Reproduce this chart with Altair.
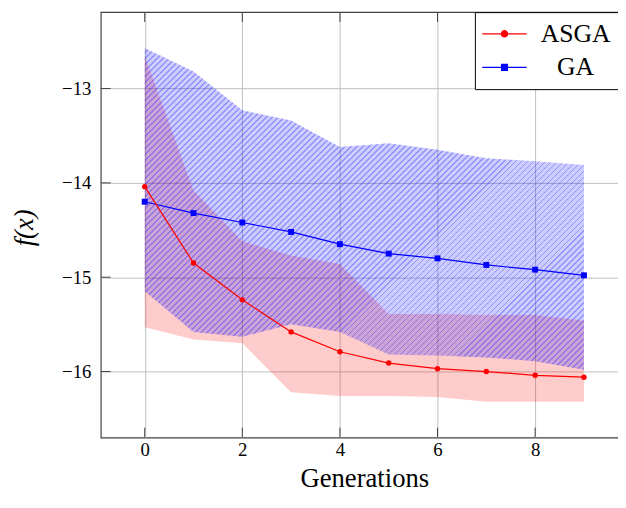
import math
import altair as alt
import pandas as pd

# ---- data ----
generations = [0, 1, 2, 3, 4, 5, 6, 7, 8, 9]
asga_mean = [-14.04, -14.85, -15.24, -15.58, -15.79, -15.91, -15.97, -16.00, -16.04, -16.06]
asga_hi = [-12.65, -14.08, -14.62, -14.77, -14.86, -15.39, -15.39, -15.40, -15.40, -15.46]
asga_lo = [-15.53, -15.66, -15.70, -16.22, -16.26, -16.26, -16.27, -16.32, -16.32, -16.32]
ga_mean = [-14.20, -14.32, -14.42, -14.52, -14.65, -14.75, -14.80, -14.87, -14.92, -14.98]
ga_hi = [-12.57, -12.82, -13.23, -13.34, -13.62, -13.58, -13.65, -13.74, -13.77, -13.81]
ga_lo = [-15.15, -15.58, -15.63, -15.50, -15.58, -15.82, -15.83, -15.85, -15.89, -15.98]
series_names = ["ASGA", "GA"]
x_ticks = [0, 2, 4, 6, 8]
y_ticks = [-13, -14, -15, -16]

# ---- layout ----
W, H = 534, 431
XMIN, XMAX = -0.9, 9.9
YMIN, YMAX = -16.70, -12.19
FONT = "Liberation Serif"
FRAME = "#404040"

df = pd.DataFrame({
    "gen": generations,
    "asga_mean": asga_mean, "asga_hi": asga_hi, "asga_lo": asga_lo,
    "ga_mean": ga_mean, "ga_hi": ga_hi, "ga_lo": ga_lo,
})
df_xt = pd.DataFrame({"t": x_ticks})
df_yt = pd.DataFrame({"t": y_ticks})
df_leg = pd.DataFrame({"gen": generations[:2], "series": series_names})

xscale = alt.Scale(domain=[XMIN, XMAX], nice=False, zero=False)
yscale = alt.Scale(domain=[YMIN, YMAX], nice=False, zero=False)
xaxis = alt.Axis(values=x_ticks, title="Generations", grid=True, ticks=False, domain=False,
                 labelPadding=3, titleX=267, titleY=50, titleBaseline="alphabetic",
                 titleAnchor="start", titleAlign="center")
yaxis = alt.Axis(values=y_ticks, title="f(x)", grid=True, ticks=False, domain=False,
                 labelPadding=10, titleX=-77, titleY=218, titleBaseline="middle",
                 titleAngle=270, titleFontStyle="italic", titleAlign="center")


def X(field):
    return alt.X(field, type="quantitative", scale=xscale, axis=xaxis)


def Y(field):
    return alt.Y(field, type="quantitative", scale=yscale, axis=yaxis)


# ---- hatch pattern for the GA band, via a striped linear gradient ----
px_x = W / (XMAX - XMIN)
px_y = H / (YMAX - YMIN)
bw = (max(generations) - min(generations)) * px_x
bh = (max(ga_hi) - min(ga_lo)) * px_y
k = (bw + bh) / (bw ** 2 + bh ** 2)
span = (bw + bh) / math.sqrt(2)
period = 4.3
n = int(round(span / period))
frac = 0.3
base_c = "rgba(0,0,255,0.2)"
line_c = "rgba(0,0,255,0.42)"
stops = []
for i in range(n):
    a = i / n
    b = (i + 1 - frac) / n
    c = (i + 1) / n
    stops += [alt.GradientStop(color=base_c, offset=a), alt.GradientStop(color=base_c, offset=b),
              alt.GradientStop(color=line_c, offset=b), alt.GradientStop(color=line_c, offset=c)]
hatch = alt.LinearGradient(gradient="linear", stops=stops,
                           x1=0, y1=0, x2=k * bw, y2=k * bh)

base = alt.Chart(df)

red_band = base.mark_area(color="red", opacity=0.2).encode(
    x=X("gen"), y=Y("asga_lo"), y2="asga_hi")
blue_band = base.mark_area(color=hatch).encode(
    x=X("gen"), y=Y("ga_lo"), y2="ga_hi")

ga_line = base.mark_line(color="blue", strokeWidth=1.2).encode(x=X("gen"), y=Y("ga_mean"))
ga_pts = base.mark_square(color="blue", size=36, opacity=1).encode(x=X("gen"), y=Y("ga_mean"))
asga_line = base.mark_line(color="red", strokeWidth=1.2).encode(x=X("gen"), y=Y("asga_mean"))
asga_pts = base.mark_circle(color="red", size=30, opacity=1).encode(x=X("gen"), y=Y("asga_mean"))

TL = 10
xt_bot = alt.Chart(df_xt).mark_rule(color=FRAME, strokeWidth=1).encode(
    x=X("t"), y=alt.value(H), y2=alt.value(H - TL))
xt_top = alt.Chart(df_xt).mark_rule(color=FRAME, strokeWidth=1).encode(
    x=X("t"), y=alt.value(0), y2=alt.value(TL))
yt_left = alt.Chart(df_yt).mark_rule(color=FRAME, strokeWidth=1).encode(
    y=Y("t"), x=alt.value(0), x2=alt.value(TL))

# legend symbols: line with marker (units of sqrt(size)/2 = 10 px)
circle_path = "M-2.25,0H2.25M0.32,0A0.32,0.32,0,1,1,-0.32,0A0.32,0.32,0,1,1,0.32,0Z"
square_path = "M-2.25,0H2.25M-0.3,-0.3H0.3V0.3H-0.3Z"

legend = alt.Legend(title=None, orient="none", legendX=379, legendY=0, direction="vertical",
                    fillColor="white", strokeColor="black", padding=9,
                    symbolSize=400, symbolStrokeWidth=1.2, symbolOffset=8,
                    labelAlign="center", labelOffset=59, labelBaseline="middle",
                    labelExpr="datum.label + '\u2004'",
                    labelFont=FONT, labelFontSize=26, labelColor="black", rowPadding=8,
                    cornerRadius=0)
leg_scale_c = alt.Scale(domain=series_names, range=["red", "blue"])
leg_scale_s = alt.Scale(domain=series_names, range=[circle_path, square_path])
dummy = alt.Chart(df_leg).transform_filter("datum.gen < -100").mark_point(
    filled=True, opacity=1, strokeWidth=1.2).encode(
    x=X("gen"),
    fill=alt.Fill("series:N", scale=leg_scale_c, legend=legend),
    stroke=alt.Stroke("series:N", scale=leg_scale_c, legend=legend),
    shape=alt.Shape("series:N", scale=leg_scale_s, legend=legend),
)

chart = alt.layer(
    red_band, blue_band, ga_line, ga_pts, asga_line, asga_pts,
    xt_bot, xt_top, yt_left, dummy
).properties(
    width=W, height=H,
    padding={"left": 94, "top": 1, "right": -10, "bottom": 56},
    autosize=alt.AutoSizeParams(type="none"),
).configure_view(
    stroke=FRAME, strokeWidth=1.2
).configure_axis(
    labelFont=FONT, labelFontSize=19, labelColor="black",
    titleFont=FONT, titleFontSize=27, titleFontWeight="normal", titleColor="black",
    gridColor="#bfbfbf", gridWidth=1, gridOpacity=1,
)

chart.save("out.html", embed_options={"renderer": "svg", "actions": False})
